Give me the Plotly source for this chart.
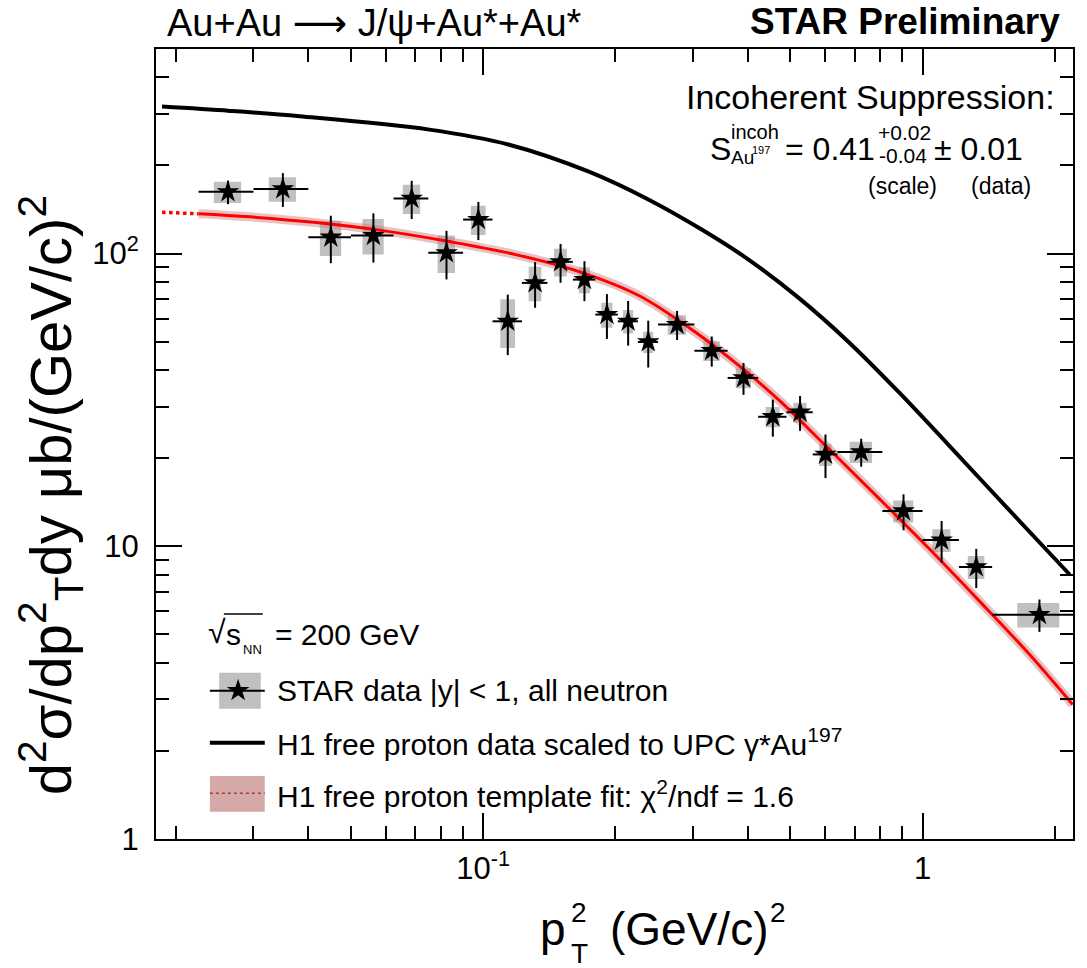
import plotly.graph_objects as go

# ---------------- data ----------------
pt2 = [0.02625, 0.035, 0.045, 0.05625, 0.06875, 0.0825, 0.0975, 0.11375, 0.13125, 0.15,
       0.17, 0.19125, 0.21375, 0.2375, 0.27625, 0.33125, 0.39125, 0.45625, 0.52625, 0.60125,
       0.725, 0.905, 1.105, 1.325, 1.845]
bin_edges = [0.0225, 0.03, 0.04, 0.05, 0.0625, 0.075, 0.09, 0.105, 0.1225, 0.14, 0.16, 0.18,
             0.2025, 0.225, 0.25, 0.3025, 0.36, 0.4225, 0.49, 0.5625, 0.64, 0.81, 1.0, 1.21,
             1.44, 2.25]
xsec = [162.5, 166.3, 113.7, 115.2, 154.2, 100.6, 130.7, 58.7, 79.4, 93.7,
        81.5, 61.9, 58.7, 49.9, 57.2, 46.6, 37.6, 27.7, 28.7, 20.6,
        21.0, 13.2, 10.5, 8.5, 5.84]
stat = [15, 22, 21, 22, 23, 19, 19.5, 13.7, 14.1, 14.2,
        12.7, 10.8, 10.2, 9.1, 6.5, 5.5, 4.7, 4.0, 3.9, 3.5,
        2.3, 1.85, 1.7, 1.3, 0.74]
syst = [13.5, 16, 15.5, 16, 17.7, 14.8, 14.9, 11.1, 10.7, 10.2,
        8.35, 6.05, 5.4, 4.15, 4.35, 3.6, 2.95, 2.2, 2.25, 1.8,
        1.75, 1.14, 0.93, 0.77, 0.56]

h1_pt2 = [0.01858, 0.02651, 0.03822, 0.0754, 0.1146, 0.174, 0.2382, 0.3143, 0.4017,
          0.5217, 0.6776, 0.8798, 1.1426, 1.5636, 2.1617]
h1_xsec = [317.8, 307.3, 294.5, 265.2, 235.5, 190.5, 152.8, 120.8, 95.4,
           70.7, 50.0, 33.8, 22.3, 13.45, 8.01]

fit_pt2 = [0.01858, 0.0225, 0.02943, 0.0417, 0.05906, 0.08372, 0.1186, 0.1652, 0.226,
           0.3093, 0.3914, 0.4699, 0.6103, 0.7925, 1.029, 1.337, 1.736, 2.196]
fit_xsec = [138.4, 136.8, 133.5, 127.6, 119.8, 109.9, 99.2, 86.8, 71.9,
            52.9, 40.2, 31.7, 21.6, 14.67, 9.9, 6.575, 4.333, 2.878]

x_tickvals = [0.1, 1]
x_ticktext = ["10<sup>-1</sup>", "1"]
y_tickvals = [1, 10, 100]
y_ticktext = ["1", "10", "10<sup>2</sup>"]
x_minor = [0.02, 0.03, 0.04, 0.05, 0.06, 0.07, 0.08, 0.09,
           0.2, 0.3, 0.4, 0.5, 0.6, 0.7, 0.8, 0.9, 2]
y_minor = [2, 3, 4, 5, 6, 7, 8, 9, 20, 30, 40, 50, 60, 70, 80, 90, 200, 300, 400]

# ---------------- style ----------------
FONT = "Liberation Sans, Arial, Helvetica, sans-serif"
W, H = 1087, 968
L, R, T, B = 156, 1075, 49, 839
BOX_FRAC = 0.5  # systematic box width as fraction of bin width


def PX(px):
    return (px - L) / (R - L)


def PY(py):
    return (B - py) / (B - T)


fig = go.Figure()

# systematic boxes
bx, by = [], []
for i, x in enumerate(pt2):
    w = BOX_FRAC * (bin_edges[i + 1] - bin_edges[i]) / 2
    x0, x1 = x - w, x + w
    y0, y1 = xsec[i] - syst[i], xsec[i] + syst[i]
    bx += [x0, x1, x1, x0, x0, None]
    by += [y0, y0, y1, y1, y0, None]
fig.add_trace(go.Scatter(x=bx, y=by, mode="lines", fill="toself", fillcolor="#c0c0c0",
                         line=dict(width=0, color="#c0c0c0"), hoverinfo="skip",
                         showlegend=False))

# H1 scaled curve
fig.add_trace(go.Scatter(x=h1_pt2, y=h1_xsec, mode="lines",
                         line=dict(color="black", width=4, shape="spline"),
                         showlegend=False))

# template fit: dotted extrapolation + band + line
n_ext = len([x for x in fit_pt2 if x <= bin_edges[0]])
ext_x, ext_y = fit_pt2[:n_ext], fit_xsec[:n_ext]
in_x, in_y = fit_pt2[n_ext - 1:], fit_xsec[n_ext - 1:]
fig.add_trace(go.Scatter(x=ext_x, y=ext_y, mode="lines",
                         line=dict(color="#ff0000", width=3.5, dash="dot"),
                         showlegend=False))
fig.add_trace(go.Scatter(x=in_x, y=in_y, mode="lines",
                         line=dict(color="rgba(205,120,120,0.45)", width=9, shape="spline"),
                         showlegend=False))
fig.add_trace(go.Scatter(x=in_x, y=in_y, mode="lines",
                         line=dict(color="#ff0000", width=3, shape="spline"),
                         showlegend=False))

# data points
ex_minus = [pt2[i] - bin_edges[i] for i in range(len(pt2))]
ex_plus = [bin_edges[i + 1] - pt2[i] for i in range(len(pt2))]
fig.add_trace(go.Scatter(
    x=pt2, y=xsec, mode="markers",
    marker=dict(symbol="star", size=17, color="black", line=dict(width=0)),
    error_x=dict(type="data", array=ex_plus, arrayminus=ex_minus, symmetric=False,
                 color="black", thickness=2, width=0),
    error_y=dict(type="data", array=stat, color="black", thickness=2, width=0),
    showlegend=False))

# legend star (overlay axes in plot-area fraction)
fig.add_trace(go.Scatter(x=[PX(238.3)], y=[PY(690.7)], xaxis="x2", yaxis="y2",
                         mode="markers",
                         marker=dict(symbol="star", size=17, color="black"),
                         showlegend=False, hoverinfo="skip"))

axis_common = dict(type="log", showline=True, linecolor="black", linewidth=2,
                   mirror="allticks", ticks="inside", tickwidth=1.5, tickcolor="black",
                   ticklen=26, showgrid=False, zeroline=False,
                   tickfont=dict(family=FONT, size=31, color="black"),
                   tickmode="array")

fig.update_layout(
    width=W, height=H,
    margin=dict(l=L, r=W - R, t=T, b=H - B),
    paper_bgcolor="white", plot_bgcolor="white",
    xaxis=dict(axis_common, range=[-1.7447, 0.3424], tickvals=x_tickvals,
               ticktext=x_ticktext, ticklabelstandoff=1,
               minor=dict(tickmode="array", tickvals=x_minor, ticks="inside",
                          ticklen=13, tickwidth=1.5, tickcolor="black")),
    yaxis=dict(axis_common, range=[0, 2.69897], tickvals=y_tickvals,
               ticktext=y_ticktext, ticklabelstandoff=9,
               minor=dict(tickmode="array", tickvals=y_minor, ticks="inside",
                          ticklen=13, tickwidth=1.5, tickcolor="black")),
    xaxis2=dict(overlaying="x", range=[0, 1], visible=False, anchor="y2"),
    yaxis2=dict(overlaying="y", range=[0, 1], visible=False, anchor="x2"),
    showlegend=False,
)


def txt(s, px, py, size, anchor="left", angle=0, yanchor="middle"):
    return dict(xref="paper", yref="paper", x=PX(px), y=PY(py), text=s, showarrow=False,
                xanchor=anchor, yanchor=yanchor, textangle=angle, borderpad=0,
                font=dict(family=FONT, size=size, color="black"))


ARROW = '<span style="font-family:DejaVu Sans">\u27f6</span>'
ann = [
    txt("Au+Au " + ARROW + " J/ψ+Au*+Au*", 166, 0.5, 38, yanchor="top"),
    txt("<b>STAR Preliminary</b>", 1063, 0.5, 37, anchor="right", yanchor="top"),
    txt("Incoherent Suppression:", 1058, 97, 34, anchor="right"),
    # S formula
    txt("S", 710, 149, 32),
    txt("incoh", 731, 131.5, 20),
    txt("Au", 731, 157.5, 19),
    txt("197", 752, 150, 11),
    txt("= 0.41", 785, 149, 32),
    txt("+0.02", 879, 132, 21),
    txt("-0.04", 880, 156, 21),
    txt("± 0.01", 935, 149, 32),
    txt("(scale)", 904, 186, 23, anchor="center"),
    txt("(data)", 1003, 186, 23, anchor="center"),
    # legend texts
    txt("√", 207, 632, 32),
    txt("s", 225, 634, 30),
    txt("NN", 242, 649, 13),
    txt("= 200 GeV", 274, 634, 30),
    txt("STAR data |y| < 1, all neutron", 276, 690, 30),
    txt("H1 free proton data scaled to UPC γ*Au<sup>197</sup>", 276, 742, 30),
    txt("H1 free proton template fit: χ<sup>2</sup>/ndf = 1.6", 276, 794, 30),
    # x title (stacked scripts)
    txt("p", 540, 929, 46),
    txt("2", 571, 912, 28),
    txt("T", 571, 954, 28),
    txt("(GeV/c)", 610, 929, 46),
    txt("2", 770, 912, 28),
    # y title
    txt("d<sup>2</sup>σ/dp<sup>2</sup><sub>T</sub>dy μb/(GeV/c)<sup>2</sup>", 50, 495, 58,
        anchor="center", angle=-90),
]
fig.update_layout(annotations=ann)

shapes = [
    dict(type="rect", xref="paper", yref="paper", x0=PX(219.3), x1=PX(261),
         y0=PY(708.7), y1=PY(672.7), fillcolor="#c0c0c0", line=dict(width=0), layer="below"),
    dict(type="line", xref="paper", yref="paper", x0=PX(210), x1=PX(265),
         y0=PY(690.7), y1=PY(690.7), line=dict(color="black", width=2)),
    dict(type="line", xref="paper", yref="paper", x0=PX(210), x1=PX(265),
         y0=PY(742.7), y1=PY(742.7), line=dict(color="black", width=4)),
    dict(type="rect", xref="paper", yref="paper", x0=PX(210), x1=PX(265),
         y0=PY(811.7), y1=PY(776), fillcolor="#d6a9a9", line=dict(width=0)),
    dict(type="line", xref="paper", yref="paper", x0=PX(210), x1=PX(265),
         y0=PY(793.3), y1=PY(793.3), line=dict(color="#a04040", width=1.5, dash="dot")),
    dict(type="line", xref="paper", yref="paper", x0=PX(224), x1=PX(263),
         y0=PY(614), y1=PY(614), line=dict(color="black", width=1.5)),
]
fig.update_layout(shapes=shapes)

fig.write_html("out.html")
